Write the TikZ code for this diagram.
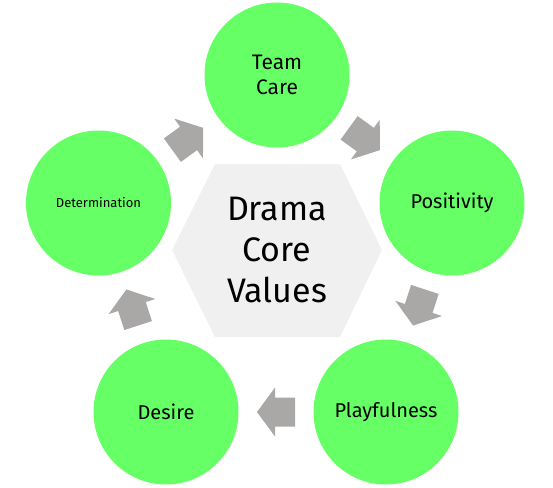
\documentclass[tikz,border=0pt]{standalone}
\usepackage{fontspec}
\setmainfont{Fira Sans}
\usetikzlibrary{calc}

\definecolor{valgreen}{RGB}{102,255,102}
\definecolor{arrowgray}{RGB}{170,167,167}
\definecolor{hexgray}{RGB}{240,240,240}

\tikzset{
  pics/valarrow/.style={code={
    \fill[arrowgray] (-19,-14.5) -- (1,-14.5) -- (1,-24.5) -- (19,0) -- (1,24.5) -- (1,14.5) -- (-19,14.5) -- cycle;
  }}
}

\begin{document}
\begin{tikzpicture}[x=1pt,y=-1pt,
	value/.style={circle,fill=valgreen,minimum size=145pt,inner sep=0pt,align=center,text=black}]
	\useasboundingbox (0,0) rectangle (553,487);
	\fill[hexgray] (172,250) -- (215,164) -- (340,164) -- (382,250) -- (340,337) -- (215,337) -- cycle;
	\node[align=center,font=\fontsize{34}{41}\selectfont] (core) at (277,250) {Drama\\Core\\Values};
	\node[value,font=\fontsize{21}{25}\selectfont] (team) at (277,75) {Team\\Care};
	\node[value,font=\fontsize{20}{24}\selectfont] (pos) at (452,203) {Positivity};
	\node[value,font=\fontsize{20}{24}\selectfont] (play) at (386,412) {Playfulness};
	\node[value,font=\fontsize{20}{24}\selectfont] (des) at (166,412) {Desire};
	\node[value,font=\fontsize{13}{16}\selectfont] (det) at (98.5,203) {Determination};
	\pic[rotate=-36] at ($(team)!0.5!(pos)$) {valarrow};
	\pic[rotate=-108] at ($(pos)!0.5!(play)$) {valarrow};
	\pic[rotate=180] at ($(play)!0.5!(des)$) {valarrow};
	\pic[rotate=108] at ($(des)!0.5!(det)$) {valarrow};
	\pic[rotate=36] at ($(det)!0.5!(team)$) {valarrow};
\end{tikzpicture}
\end{document}
